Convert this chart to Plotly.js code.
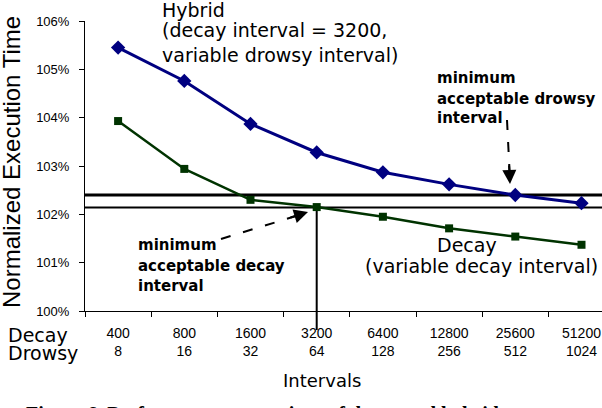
<!DOCTYPE html>
<html>
<head>
<meta charset="utf-8">
<script src="https://cdn.plot.ly/plotly-3.0.1.min.js"></script>
<style>html,body{margin:0;padding:0;background:#fff;}#chart{width:602px;height:408px;}</style>
</head>
<body>
<div id="chart"></div>
<script>
// ---- data ----
const decayIntervals = ['400', '800', '1600', '3200', '6400', '12800', '25600', '51200'];
const drowsyIntervals = ['8', '16', '32', '64', '128', '256', '512', '1024'];
const hybridTime = [105.45, 104.76, 103.87, 103.28, 102.87, 102.62, 102.40, 102.23];
const decayTime = [103.93, 102.94, 102.30, 102.15, 101.95, 101.71, 101.54, 101.37];
const acceptableLevels = [102.40, 102.14]; // hybrid limit, decay limit
const yTicks = [100, 101, 102, 103, 104, 105, 106];
const chosenDecayIndex = 3;   // 3200

const categories = decayIntervals.map((d, i) => d + '<br>' + drowsyIntervals[i]);

// ---- layout helpers (pixel -> paper) ----
const W = 602, H = 408, ML = 85, MR = 0, MT = 21, MB = 97;
const PW = W - ML - MR, PH = H - MT - MB;
const px = x => (x - ML) / PW;
const py = y => (H - MB - y) / PH;
const yMin = 100, yMax = 106;

const sans = 'DejaVu Sans, sans-serif';
const arial = 'Liberation Sans, Arial, sans-serif';

function txt(text, x, y, size, opts) {
  return Object.assign({
    text: text, xref: 'paper', yref: 'paper', x: px(x), y: py(y),
    xanchor: 'left', yanchor: 'middle', showarrow: false,
    font: {family: sans, size: size, color: '#000'}
  }, opts || {});
}

const traces = [
  {
    x: categories, y: hybridTime, type: 'scatter', mode: 'lines+markers',
    line: {color: '#000080', width: 3},
    marker: {symbol: 'diamond', size: 11, color: '#000080'},
    hoverinfo: 'skip'
  },
  {
    x: categories, y: decayTime, type: 'scatter', mode: 'lines+markers',
    line: {color: '#003300', width: 2.5},
    marker: {symbol: 'square', size: 8, color: '#003300'},
    hoverinfo: 'skip'
  }
];

const annotations = [
  txt('Hybrid', 160, 9.5, 19),
  txt('(decay interval = 3200,', 160, 29.5, 19),
  txt('variable drowsy interval)', 160, 55, 19),
  txt('<b>minimum</b>', 435, 78, 15),
  txt('<b>acceptable drowsy</b>', 435, 99, 15),
  txt('<b>interval</b>', 435, 118, 15),
  txt('<b>minimum</b>', 136, 245, 15),
  txt('<b>acceptable decay</b>', 136, 266, 15),
  txt('<b>interval</b>', 136, 286, 15),
  txt('Decay', 467, 245.5, 19, {xanchor: 'center'}),
  txt('(variable decay interval)', 363, 266, 19),
  txt('Decay', 6, 334.5, 19),
  txt('Drowsy', 6, 352.5, 19),
  txt('Intervals', 322, 380, 18, {xanchor: 'center'}),
  txt('Normalized Execution Time', 11, 162, 24, {xanchor: 'center', textangle: -90, font: {family: arial, size: 24, color: '#000'}}),
  txt('<b>Figure 6. Performance comparison of decay and hybrid</b>', 24, 401, 20,
      {yanchor: 'top', font: {family: 'Liberation Serif, Times New Roman, serif', size: 20, color: '#000'}}),
  // arrow heads
  {xref: 'paper', yref: 'paper', x: px(308), y: py(212), text: '', showarrow: true,
   arrowhead: 2, arrowsize: 1.4, arrowwidth: 2, arrowcolor: '#000', ax: -19, ay: 6, standoff: 0},
  {xref: 'paper', yref: 'paper', x: px(510), y: py(184), text: '', showarrow: true,
   arrowhead: 2, arrowsize: 1.4, arrowwidth: 2, arrowcolor: '#000', ax: -1, ay: -20, standoff: 0}
];

const shapes = [
  {type: 'line', xref: 'paper', yref: 'y', x0: 0, x1: 1, y0: acceptableLevels[0], y1: acceptableLevels[0],
   line: {color: '#000', width: 3}, layer: 'below'},
  {type: 'line', xref: 'paper', yref: 'y', x0: 0, x1: 1, y0: acceptableLevels[1], y1: acceptableLevels[1],
   line: {color: '#000', width: 2}, layer: 'below'},
  {type: 'line', xref: 'x', yref: 'paper', x0: chosenDecayIndex, x1: chosenDecayIndex,
   y0: py(330), y1: (decayTime[chosenDecayIndex] - yMin) / (yMax - yMin),
   line: {color: '#000', width: 2}, layer: 'below'},
  // dashed arrow shafts
  {type: 'line', xref: 'paper', yref: 'paper', x0: px(221), y0: py(239), x1: px(296), y1: py(216),
   line: {color: '#000', width: 2, dash: '10px,13px'}},
  {type: 'line', xref: 'paper', yref: 'paper', x0: px(507), y0: py(120), x1: px(509.5), y1: py(170),
   line: {color: '#000', width: 2, dash: '10px,12px'}}
];

const layout = {
  width: W, height: H,
  margin: {l: ML, r: MR, t: MT, b: MB, pad: 0},
  paper_bgcolor: '#fff', plot_bgcolor: '#fff',
  showlegend: false,
  xaxis: {
    type: 'category', range: [-0.5, -0.5 + PW / 66.2],
    tickson: 'boundaries', ticks: 'outside', ticklen: 5, tickwidth: 1, tickcolor: '#000',
    showline: true, linecolor: '#000', linewidth: 1, showgrid: false, zeroline: false,
    tickfont: {family: arial, size: 14, color: '#000'}, ticklabelstandoff: 9,
    fixedrange: true
  },
  xaxis2: {
    overlaying: 'x', anchor: 'y', type: 'linear', range: [-0.5, -0.5 + PW / 66.2],
    tickmode: 'linear', tick0: 0.5, dtick: 1, ticks: 'inside', ticklen: 5, tickcolor: '#000',
    showticklabels: false, showline: false, showgrid: false, zeroline: false
  },
  yaxis: {
    range: [yMin, yMax], tickmode: 'array', tickvals: yTicks, ticktext: yTicks.map(v => v + '%'),
    ticks: 'outside', ticklen: 5, tickcolor: '#000',
    showline: true, linecolor: '#000', linewidth: 1, showgrid: false, zeroline: false,
    tickfont: {family: arial, size: 13, color: '#000'}, ticklabelstandoff: 7,
    fixedrange: true
  },
  yaxis2: {
    overlaying: 'y', anchor: 'x', range: [yMin, yMax], tickmode: 'array', tickvals: yTicks,
    ticks: 'inside', ticklen: 5, tickcolor: '#000',
    showticklabels: false, showline: false, showgrid: false, zeroline: false
  },
  shapes: shapes,
  annotations: annotations
};

Plotly.newPlot('chart', traces, layout, {displayModeBar: false, staticPlot: true});
</script>
</body>
</html>
